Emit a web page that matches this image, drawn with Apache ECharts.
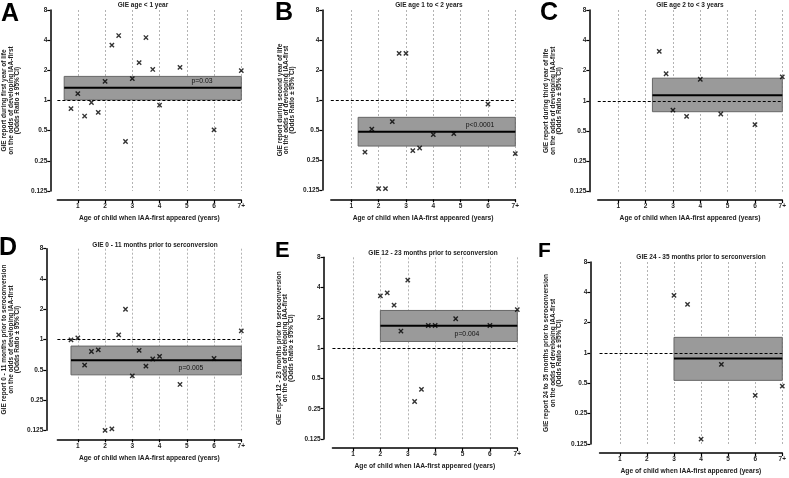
<!DOCTYPE html>
<html><head><meta charset="utf-8">
<script src="https://cdn.jsdelivr.net/npm/echarts@6/dist/echarts.min.js"></script>
<style>html,body{margin:0;padding:0;background:#fff}#c{width:789px;height:478px}</style>
</head><body><div id="c"></div>
<script>
// ---- data ----
const xTicks = [1, 2, 3, 4, 5, 6, 7];
const xTickLabels = ['1', '2', '3', '4', '5', '6', '7+'];
const yTicks = [0.125, 0.25, 0.5, 1, 2, 4, 8];

const xA = [0.75, 1, 1.25, 1.5, 1.75, 2, 2.25, 2.5, 2.75, 3, 3.25, 3.5, 3.75, 4, 4.75, 6, 7];
const yA = [0.83, 1.17, 0.70, 0.955, 0.76, 1.55, 3.57, 4.45, 0.39, 1.65, 2.39, 4.25, 2.04, 0.90, 2.14, 0.51, 1.99];
const bandA = [0.5, 1.015, 1.74, 1.34]; // start, lower CI, upper CI, estimate

const xB = [1.5, 1.75, 2, 2.25, 2.5, 2.75, 3, 3.25, 3.5, 4, 4.75, 6, 7];
const yB = [0.30, 0.51, 0.129, 0.129, 0.606, 2.94, 2.94, 0.31, 0.33, 0.45, 0.46, 0.91, 0.29];
const bandB = [1.25, 0.345, 0.67, 0.48];

const xC = [2.5, 2.75, 3, 3.5, 4, 4.75, 6, 7];
const yC = [3.1, 1.86, 0.81, 0.70, 1.64, 0.74, 0.58, 1.73];
const bandC = [2.25, 0.78, 1.68, 1.14];

const xD = [0.75, 1, 1.25, 1.5, 1.75, 2, 2.25, 2.5, 2.75, 3, 3.25, 3.5, 3.75, 4, 4.75, 6, 7];
const yD = [0.99, 1.04, 0.555, 0.76, 0.79, 0.125, 0.129, 1.11, 2.0, 0.435, 0.78, 0.543, 0.64, 0.68, 0.357, 0.647, 1.22];
const bandD = [0.75, 0.445, 0.86, 0.62];

const xE = [2, 2.25, 2.5, 2.75, 3, 3.25, 3.5, 3.75, 4, 4.75, 6, 7];
const yE = [3.31, 3.55, 2.68, 1.48, 4.75, 0.295, 0.39, 1.68, 1.68, 1.96, 1.68, 2.42];
const bandE = [2, 1.165, 2.37, 1.67];

const xF = [3, 3.5, 4, 4.75, 6, 7];
const yF = [3.73, 3.04, 0.14, 0.77, 0.38, 0.47];
const bandF = [3, 0.535, 1.43, 0.88];

const letters = ['A', 'B', 'C', 'D', 'E', 'F'];
const titles = ['GIE age < 1 year', 'GIE age 1 to < 2 years', 'GIE age 2 to < 3 years',
  'GIE 0 - 11 months prior to serconversion', 'GIE 12 - 23 months prior to serconversion', 'GIE 24 - 35 months prior to serconversion'];
const yNames = [
  'GIE report during first year of life\non the odds of developing IAA-first\n(Odds Ratio ± 95% CI)',
  'GIE report during second year of life\non the odds of developing IAA-first\n(Odds Ratio ± 95% CI)',
  'GIE report during third year of life\non the odds of developing IAA-first\n(Odds Ratio ± 95% CI)',
  'GIE report 0 - 11 months prior to seroconversion\non the odds of developing IAA-first\n(Odds Ratio ± 95% CI)',
  'GIE report 12 - 23 months prior to seroconversion\non the odds of developing IAA-first\n(Odds Ratio ± 95% CI)',
  'GIE report 24 to 35 months prior to seroconversion\non the odds of developing IAA-first\n(Odds Ratio ± 95% CI)'];
const xName = 'Age of child when IAA-first appeared (years)';
const pLabels = ['p=0.03', 'p<0.0001', '', 'p=0.005', 'p=0.004', ''];

const xs = [xA, xB, xC, xD, xE, xF];
const ys = [yA, yB, yC, yD, yE, yF];
const bands = [bandA, bandB, bandC, bandD, bandE, bandF];

// ---- layout (pixels) ----
const FONT = '"Liberation Sans", Arial, sans-serif';
// [pos of x=1, pos of x=7, top (y=8), bottom (y=0.125), xAxis line y, yAxis line x, yName gap]
const L = [
  [76.7, 241.3, 10, 191, 200, 49, 30],
  [351.3, 515.3, 10, 190, 199.3, 322.3, 26.5],
  [618.3, 782.7, 10, 191.7, 200, 589.3, 27],
  [76.7, 241.3, 248.7, 430.3, 439.3, 45, 26],
  [353, 517.3, 257.3, 439, 448, 323.7, 29],
  [620, 783.7, 262, 444, 453, 590.3, 28]
];
const xMin = 0.25, xMax = 7;
const letterPos = [[1, 2, 25], [275, 1, 25], [540, 1, 25], [-1, 236, 25], [275, 240, 22], [538, 241, 21]];
const titlePos = [[143, 5], [429, 5], [690, 5], [155, 245], [433, 253], [701, 257.5]];
const pPos = [[202, 81], [480, 125], [0, 0], [191, 368], [467, 334], [0, 0]];

const grids = [], xAxes = [], yAxes = [], series = [], graphics = [];
for (let i = 0; i < 6; i++) {
  const [p1, p7, top, bot, xl, yl, ng] = L[i];
  const unit = (p7 - p1) / 6;
  const left = p1 - (1 - xMin) * unit;
  grids.push({ left: left, top: top, width: p7 - left, height: bot - top, containLabel: false });
  xAxes.push({
    gridIndex: i, type: 'value', min: xMin, max: xMax, offset: xl - bot,
    axisLine: { onZero: false, lineStyle: { color: '#000', width: 1.5 } },
    axisTick: { customValues: xTicks, length: 3, lineStyle: { color: '#000', width: 1.2 } },
    axisLabel: { customValues: xTicks, formatter: v => xTickLabels[xTicks.indexOf(v)], fontSize: 6.5, fontWeight: 'bold', color: '#222', margin: 3, fontFamily: FONT },
    splitLine: { show: true, lineStyle: { type: [2, 2], color: '#a0a0a0', width: 0.8 } },
    name: xName, nameLocation: 'middle', nameGap: 15,
    nameTextStyle: { fontSize: 6.7, fontWeight: 'bold', color: '#222', fontFamily: FONT }
  });
  yAxes.push({
    gridIndex: i, type: 'log', logBase: 2, min: 0.125, max: 8, offset: left - yl,
    axisLine: { show: true, lineStyle: { color: '#000', width: 1.5 } },
    axisTick: { show: true, length: 3, lineStyle: { color: '#000', width: 1.2 } },
    axisLabel: { formatter: v => String(+(+v).toPrecision(6)), fontSize: 6.5, fontWeight: 'bold', color: '#222', margin: 3, fontFamily: FONT },
    splitLine: { show: false },
    name: yNames[i], nameLocation: 'middle', nameGap: ng,
    nameTextStyle: { fontSize: 6.5, fontWeight: 'bold', color: '#222', lineHeight: 6.3, fontFamily: FONT }
  });
  const b = bands[i];
  // CI band
  series.push({
    type: 'line', xAxisIndex: i, yAxisIndex: i, z: 1, silent: true,
    data: [],
    markArea: { silent: true, itemStyle: { color: '#9a9a9a', borderColor: '#666', borderWidth: 1 },
      data: [[{ coord: [b[0], b[1]] }, { coord: [xMax, b[2]] }]] }
  });
  // estimate line
  series.push({
    type: 'line', xAxisIndex: i, yAxisIndex: i, z: 3, silent: true, symbol: 'none',
    lineStyle: { color: '#000', width: 2 },
    data: [[b[0], b[3]], [xMax, b[3]]]
  });
  // points + reference line at OR = 1
  series.push({
    type: 'scatter', xAxisIndex: i, yAxisIndex: i, z: 4, silent: true,
    symbol: 'path://M0,0L10,10M0,10L10,0', symbolSize: 4.3,
    itemStyle: { color: 'rgba(0,0,0,0)', borderColor: '#000', borderWidth: 1.4 },
    data: xs[i].map((x, k) => [x, ys[i][k]]),
    markLine: { silent: true, symbol: 'none', label: { show: false },
      lineStyle: { color: '#000', type: [3, 2], width: 1 },
      data: [{ yAxis: 1 }] }
  });
  graphics.push({ type: 'text', x: letterPos[i][0], y: letterPos[i][1],
    style: { text: letters[i], fontSize: letterPos[i][2], fontWeight: 'bold', fontFamily: FONT, fill: '#000' } });
  graphics.push({ type: 'text', x: titlePos[i][0], y: titlePos[i][1],
    style: { text: titles[i], fontSize: 6.5, fontWeight: 'bold', fontFamily: FONT, fill: '#222', align: 'center', verticalAlign: 'middle' } });
  if (pLabels[i]) graphics.push({ type: 'text', x: pPos[i][0], y: pPos[i][1], z: 10,
    style: { text: pLabels[i], fontSize: 6.8, fontFamily: FONT, fill: '#111', align: 'center', verticalAlign: 'middle' } });
}

const chart = echarts.init(document.getElementById('c'), null, { renderer: 'canvas' });
chart.setOption({
  animation: false,
  backgroundColor: '#fff',
  grid: grids, xAxis: xAxes, yAxis: yAxes, series: series, graphic: graphics
});
</script></body></html>
